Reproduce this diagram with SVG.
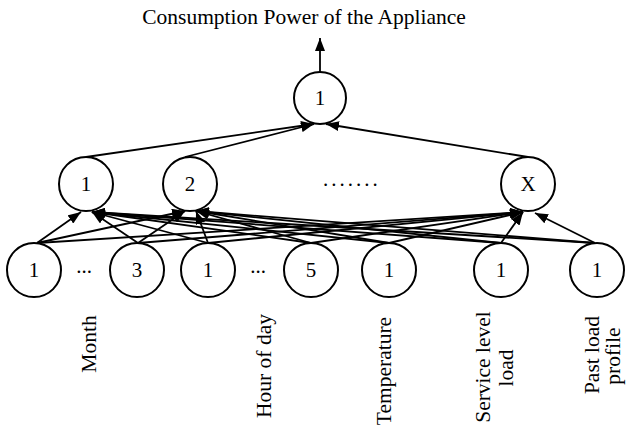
<svg xmlns="http://www.w3.org/2000/svg" width="627" height="430" viewBox="0 0 627 430">
<style>
  .n { fill: #fff; stroke: #000; stroke-width: 2; }
  .t { font-family: "Liberation Serif", "Times New Roman", serif; font-size: 21px; fill: #000; }
  .c { stroke: #000; stroke-width: 1.8; fill: none; marker-end: url(#ah); }
  .lbl { font-family: "Liberation Serif", "Times New Roman", serif; font-size: 21.5px; fill: #000; text-anchor: middle; }
</style>
<defs>
  <marker id="ah" markerUnits="userSpaceOnUse" markerWidth="14" markerHeight="10" refX="13" refY="5" orient="auto">
    <path d="M0,0 L13,5 L0,10 z" fill="#000"/>
  </marker>
</defs>
<rect width="627" height="430" fill="#fff"/>
<text class="lbl" x="304" y="24">Consumption Power of the Appliance</text>

<g id="connectors">
  <line class="c" x1="320" y1="72" x2="320" y2="38"/>
  <line class="c" x1="86" y1="157" x2="314" y2="124"/>
  <line class="c" x1="185" y1="157" x2="314" y2="124"/>
  <line class="c" x1="528" y1="157" x2="326" y2="124"/>
  <line class="c" x1="37" y1="243" x2="81" y2="212"/>
  <line class="c" x1="138" y1="243" x2="92" y2="212"/>
  <line class="c" x1="208" y1="243" x2="92" y2="212"/>
  <line class="c" x1="311" y1="243" x2="92" y2="212"/>
  <line class="c" x1="389" y1="243" x2="92" y2="212"/>
  <line class="c" x1="501" y1="243" x2="92" y2="212"/>
  <line class="c" x1="595" y1="243" x2="92" y2="212"/>
  <line class="c" x1="37" y1="243" x2="185" y2="211"/>
  <line class="c" x1="138" y1="243" x2="185" y2="211"/>
  <line class="c" x1="208" y1="243" x2="196" y2="211"/>
  <line class="c" x1="311" y1="243" x2="196" y2="211"/>
  <line class="c" x1="389" y1="243" x2="196" y2="211"/>
  <line class="c" x1="501" y1="243" x2="196" y2="211"/>
  <line class="c" x1="595" y1="243" x2="196" y2="211"/>
  <line class="c" x1="37" y1="243" x2="523" y2="212"/>
  <line class="c" x1="138" y1="243" x2="523" y2="212"/>
  <line class="c" x1="208" y1="243" x2="523" y2="212"/>
  <line class="c" x1="311" y1="243" x2="523" y2="212"/>
  <line class="c" x1="389" y1="243" x2="523" y2="212"/>
  <line class="c" x1="501" y1="243" x2="523" y2="212"/>
  <line class="c" x1="595" y1="243" x2="535" y2="213"/>
</g>

<g id="out1"><circle class="n" cx="320" cy="98" r="26"/><text class="t" x="320" y="105" text-anchor="middle">1</text></g>

<g id="h1"><circle class="n" cx="86" cy="184" r="27"/><text class="t" x="86" y="191" text-anchor="middle">1</text></g>
<g id="h2"><circle class="n" cx="190" cy="184" r="27"/><text class="t" x="190" y="191" text-anchor="middle">2</text></g>
<g id="hdots"><text class="t" x="323" y="186" letter-spacing="3">.......</text></g>
<g id="hx"><circle class="n" cx="528" cy="184" r="27"/><text class="t" x="528" y="191" text-anchor="middle">X</text></g>

<g id="i1"><circle class="n" cx="34" cy="270" r="27"/><text class="t" x="34" y="277" text-anchor="middle">1</text></g>
<g id="idots1"><text class="t" x="84" y="273" text-anchor="middle" font-size="15">...</text></g>
<g id="i2"><circle class="n" cx="137" cy="270" r="27"/><text class="t" x="137" y="277" text-anchor="middle">3</text></g>
<g id="i3"><circle class="n" cx="208" cy="270" r="27"/><text class="t" x="208" y="277" text-anchor="middle">1</text></g>
<g id="idots2"><text class="t" x="258" y="273" text-anchor="middle" font-size="15">...</text></g>
<g id="i4"><circle class="n" cx="311" cy="270" r="27"/><text class="t" x="311" y="277" text-anchor="middle">5</text></g>
<g id="i5"><circle class="n" cx="389" cy="270" r="27"/><text class="t" x="389" y="277" text-anchor="middle">1</text></g>
<g id="i6"><circle class="n" cx="501" cy="270" r="27"/><text class="t" x="501" y="277" text-anchor="middle">1</text></g>
<g id="i7"><circle class="n" cx="597" cy="270" r="27"/><text class="t" x="597" y="277" text-anchor="middle">1</text></g>

<g id="labels">
  <text class="lbl" transform="translate(96,344) rotate(-90)">Month</text>
  <text class="lbl" transform="translate(271,366) rotate(-90)">Hour of day</text>
  <text class="lbl" transform="translate(391,371) rotate(-90)">Temperature</text>
  <text class="lbl" transform="translate(490,367) rotate(-90)">Service level</text>
  <text class="lbl" transform="translate(513,368) rotate(-90)">load</text>
  <text class="lbl" transform="translate(599,355) rotate(-90)">Past load</text>
  <text class="lbl" transform="translate(620,356) rotate(-90)">profile</text>
</g>
</svg>
